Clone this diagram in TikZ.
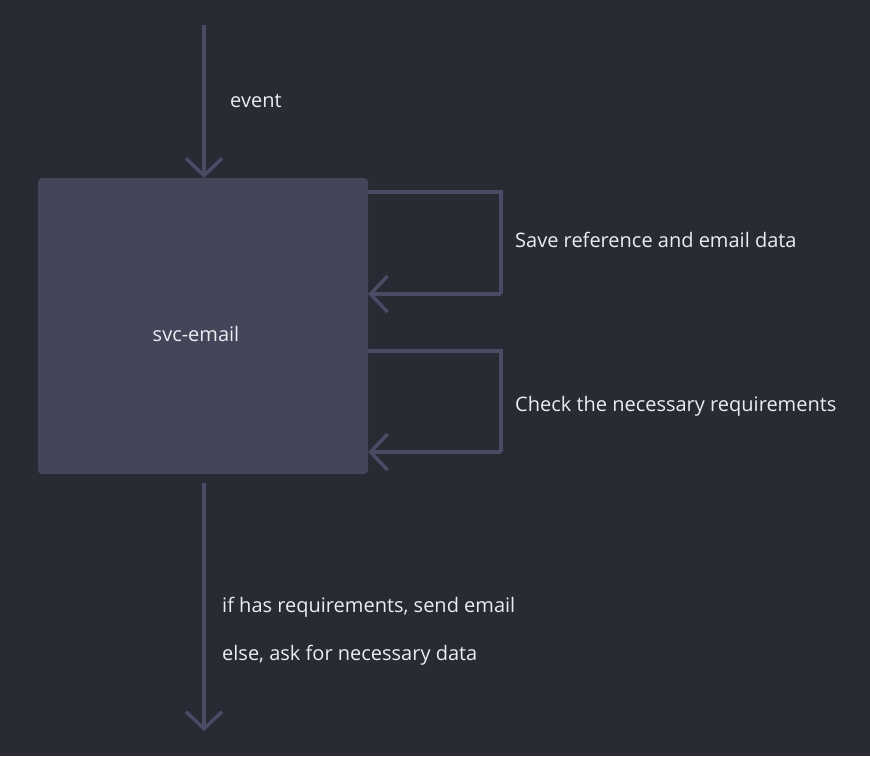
\documentclass[tikz,border=0pt]{standalone}
\usepackage{fontspec}
\setmainfont{Open Sans}
\usetikzlibrary{arrows.meta,positioning}
\definecolor{bgcol}{HTML}{282A34}
\definecolor{boxcol}{HTML}{434659}
\definecolor{linecol}{HTML}{4A4C66}
\definecolor{txtcol}{HTML}{ECECF1}
\tikzstyle{line} = [draw=linecol, line width=3.4pt, -{Straight Barb[length=17pt,width=36pt]}]
\tikzstyle{loop} = [draw=linecol, line width=3.4pt]
\tikzstyle{label} = [text=txtcol, inner sep=0pt, anchor=base west, font=\fontsize{20}{24}\selectfont]

\begin{document}
\begin{tikzpicture}[x=1pt,y=-1pt]
    % Background
    \fill[bgcol] (0,0) rectangle (870,756);
    \useasboundingbox (0,0) rectangle (870,756);
    % The service box
    \node (email) [fill=boxcol, rounded corners=4pt, minimum width=330pt, minimum height=296pt, inner sep=0pt] at (203,326) {};
    \node (name) [label, anchor=base] at (196,341) {svc-email};
    % Incoming event
    \coordinate (in) at (204,25);
    \draw [line] (in) -- (email.north -| in);
    \node (event) [label] at (230,107) {event};
    % Loop 1
    \coordinate (a1) at (email.north east |- 0,192);
    \coordinate (a2) at (501,192);
    \coordinate (a3) at (501,294);
    \coordinate (a4) at (email.north east |- 0,294);
    \draw [loop] (a1) -- (a2) -- (a3);
    \draw [line] (a3) -- (a4);
    \node (save) [label] at (515,247) {Save reference and email data};
    % Loop 2
    \coordinate (b1) at (email.north east |- 0,351);
    \coordinate (b2) at (501,351);
    \coordinate (b3) at (501,452);
    \coordinate (b4) at (email.north east |- 0,452);
    \draw [loop] (b1) -- (b2) -- (b3);
    \draw [line] (b3) -- (b4);
    \node (check) [label] at (515,411) {Check the necessary requirements};
    % Outgoing
    \coordinate (out1) at (204,483);
    \coordinate (out2) at (204,731);
    \draw [line] (out1) -- (out2);
    \node (send) [label] at (222,612) {if has requirements, send email};
    \node (ask) [label] at (222,660) {else, ask for necessary data};
\end{tikzpicture}
\end{document}
